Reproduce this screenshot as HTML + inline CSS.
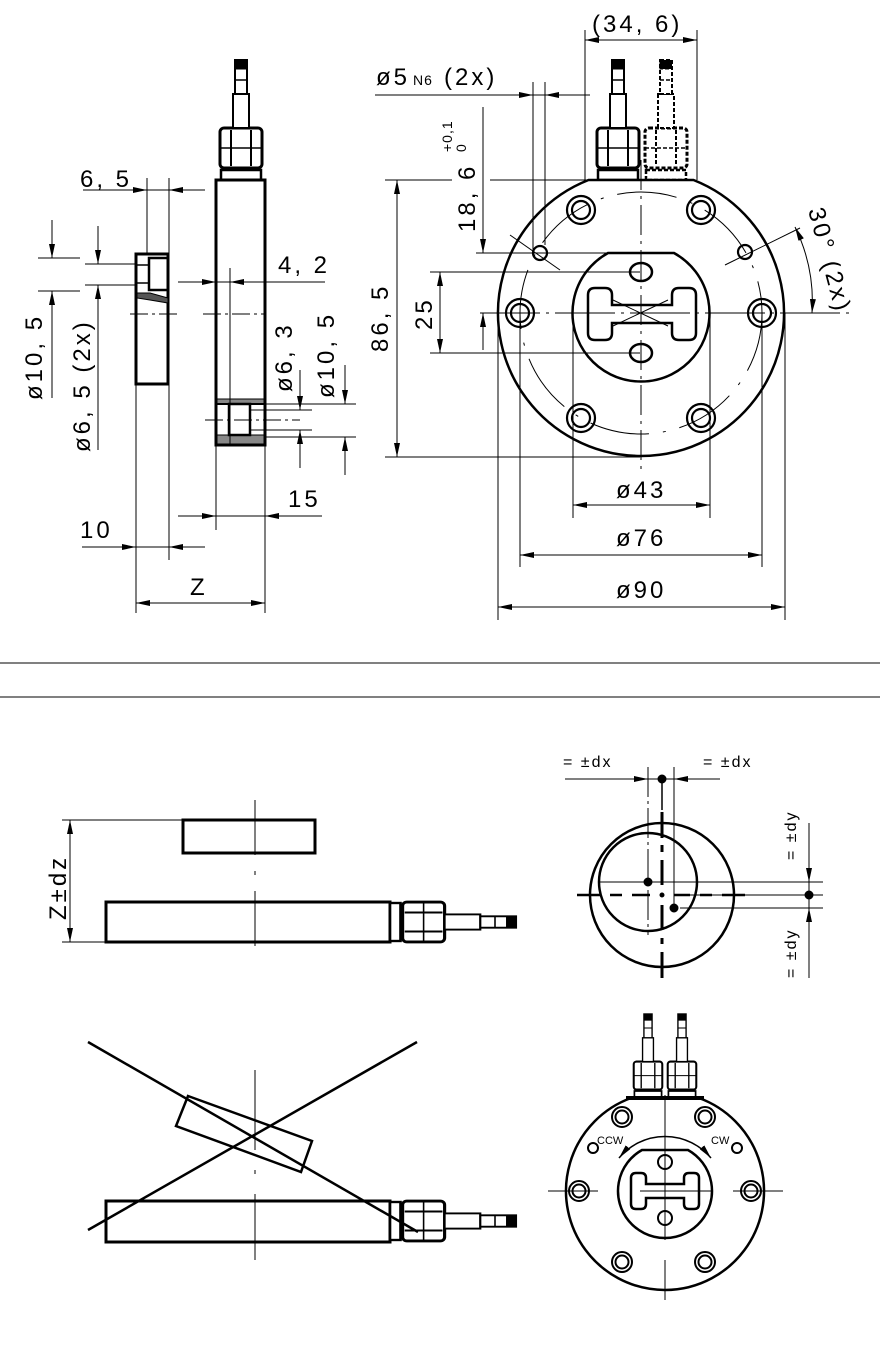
<!DOCTYPE html>
<html><head><meta charset="utf-8"><style>
html,body{margin:0;padding:0;background:#fff}
svg{display:block}
text{font-family:"Liberation Sans",sans-serif;fill:#000;font-weight:normal}
</style></head><body>
<svg width="880" height="1348" viewBox="0 0 880 1348" xmlns="http://www.w3.org/2000/svg">
<defs>
<marker id="ar" viewBox="0 0 14 6" refX="14" refY="3" markerWidth="14" markerHeight="6" markerUnits="userSpaceOnUse" orient="auto-start-reverse"><path d="M0,0 L14,3 L0,6 Z" fill="#000"/></marker>
<g id="conn" fill="#fff" stroke="#000">
<rect x="-20" y="-10" width="40" height="10" stroke-width="2.5"/>
<rect x="-21" y="-52" width="42" height="40" rx="4" stroke-width="3"/>
<line x1="-10" y1="-50" x2="-10" y2="-14" stroke-width="2"/>
<line x1="10" y1="-50" x2="10" y2="-14" stroke-width="2"/>
<line x1="-21" y1="-32" x2="21" y2="-32" stroke-width="1.5"/>
<rect x="-8" y="-86" width="16" height="34" stroke-width="2"/>
<rect x="-6" y="-120" width="12" height="34" stroke-width="2"/>
<rect x="-6" y="-120" width="12" height="9" fill="#000" stroke-width="1"/>
<line x1="-6" y1="-100" x2="6" y2="-100" stroke-width="1.5"/>
</g>
<g id="bolt" fill="none" stroke="#000" stroke-width="2.2"><circle r="14"/><circle r="9"/></g>
<g id="bolts" fill="none" stroke="#000" stroke-width="2"><circle r="10"/><circle r="6.5"/></g>
</defs>

<g fill="none" stroke="#000">
<use href="#conn" transform="translate(241,180)"/>
<rect x="216" y="180" width="49" height="265" stroke-width="3"/>
<rect x="136" y="254" width="32" height="130" stroke-width="3"/>
<rect x="149" y="258" width="19" height="32" stroke-width="2.5"/>
<path d="M137,293 L150,293 L168,298 L168,303 L150,300 L137,298 Z" fill="#555" stroke-width="1"/>
<line x1="137" y1="265" x2="148" y2="265" stroke-width="1.5"/>
<line x1="137" y1="283" x2="148" y2="283" stroke-width="1.5"/>
<rect x="217" y="399" width="47" height="5" fill="#888" stroke-width="1"/>
<rect x="217" y="435" width="47" height="9" fill="#888" stroke-width="1"/>
<rect x="229" y="404" width="21" height="31" stroke-width="2.5"/>
<line x1="217" y1="404" x2="264" y2="404" stroke-width="2"/>
<path d="M130,314 H180 M203,314 H265" stroke-width="1" stroke-dasharray="18,4,3,4"/>
<line x1="230" y1="268" x2="230" y2="445" stroke-width="1"/>
<path d="M205,420 H300" stroke-width="1" stroke-dasharray="18,4,3,4"/>
<g stroke-width="1">
<line x1="83" y1="190" x2="205" y2="190"/>
<line x1="128" y1="190" x2="147" y2="190" marker-end="url(#ar)"/>
<line x1="188" y1="190" x2="169" y2="190" marker-end="url(#ar)"/>
<line x1="147" y1="178" x2="147" y2="254"/>
<line x1="169" y1="178" x2="169" y2="560"/>
<line x1="178" y1="282" x2="325" y2="282"/>
<line x1="196" y1="282" x2="216" y2="282" marker-end="url(#ar)"/>
<line x1="250" y1="282" x2="230" y2="282" marker-end="url(#ar)"/>
<line x1="178" y1="516" x2="322" y2="516"/>
<line x1="196" y1="516" x2="216" y2="516" marker-end="url(#ar)"/>
<line x1="285" y1="516" x2="265" y2="516" marker-end="url(#ar)"/>
<line x1="216" y1="445" x2="216" y2="530"/>
<line x1="82" y1="547" x2="205" y2="547"/>
<line x1="116" y1="547" x2="136" y2="547" marker-end="url(#ar)"/>
<line x1="189" y1="547" x2="169" y2="547" marker-end="url(#ar)"/>
<line x1="136" y1="384" x2="136" y2="613"/>
<line x1="265" y1="445" x2="265" y2="613"/>
<line x1="136" y1="603" x2="265" y2="603" marker-start="url(#ar)" marker-end="url(#ar)"/>
<line x1="38" y1="258" x2="80" y2="258"/>
<line x1="38" y1="291" x2="80" y2="291"/>
<line x1="52" y1="220" x2="52" y2="258" marker-end="url(#ar)"/>
<line x1="52" y1="398" x2="52" y2="291" marker-end="url(#ar)"/>
<line x1="85" y1="264" x2="135" y2="264"/>
<line x1="85" y1="285" x2="135" y2="285"/>
<line x1="98" y1="226" x2="98" y2="264" marker-end="url(#ar)"/>
<line x1="98" y1="450" x2="98" y2="285" marker-end="url(#ar)"/>
<line x1="264" y1="404" x2="356" y2="404"/>
<line x1="264" y1="437" x2="356" y2="437"/>
<line x1="250" y1="410" x2="312" y2="410"/>
<line x1="250" y1="430" x2="312" y2="430"/>
<line x1="300" y1="370" x2="300" y2="410" marker-end="url(#ar)"/>
<line x1="300" y1="468" x2="300" y2="430" marker-end="url(#ar)"/>
<line x1="345" y1="365" x2="345" y2="404" marker-end="url(#ar)"/>
<line x1="345" y1="475" x2="345" y2="437" marker-end="url(#ar)"/>
</g>

<use href="#conn" transform="translate(618,180)"/>
<g stroke-dasharray="4,2"><use href="#conn" transform="translate(666,180)"/></g>
<path d="M588.5,180 H693.5 A143,143 0 1,1 588.5,180 Z" stroke-width="2.5" fill="#fff"/>
<circle cx="641" cy="313" r="121" stroke-width="1" stroke-dasharray="60,14,3,14"/>
<path d="M608,253 H674 A68.5,68.5 0 1,1 608,253 Z" stroke-width="2.5"/>
<path d="M588,295 q0,-7 7,-7 h10 q7,0 7,7 v10 h60 v-10 q0,-7 7,-7 h10 q7,0 7,7 v38 q0,7 -7,7 h-10 q-7,0 -7,-7 v-10 h-60 v10 q0,7 -7,7 h-10 q-7,0 -7,-7 z" stroke-width="2.5"/>
<path d="M613,300 L668,326 M613,326 L668,300" stroke-width="1"/>
<ellipse cx="641" cy="272" rx="11" ry="9" stroke-width="2.5"/>
<ellipse cx="641" cy="353" rx="11" ry="9" stroke-width="2.5"/>
<use href="#bolt" x="520" y="313"/><use href="#bolt" x="762" y="313"/>
<use href="#bolt" x="581" y="210"/><use href="#bolt" x="701" y="210"/>
<use href="#bolt" x="581" y="418"/><use href="#bolt" x="701" y="418"/>
<circle cx="540" cy="253" r="7" stroke-width="2.2"/>
<circle cx="745" cy="252" r="7" stroke-width="2.2"/>
<g stroke-width="1">
<line x1="480" y1="313" x2="850" y2="313" stroke-dasharray="60,6,3,6"/>
<line x1="641" y1="160" x2="641" y2="470" stroke-dasharray="30,6,3,6"/>
<line x1="510" y1="235" x2="560" y2="270"/>
<line x1="725" y1="265" x2="800" y2="228"/>
<line x1="585" y1="30" x2="585" y2="180"/>
<line x1="697" y1="30" x2="697" y2="180"/>
<line x1="585" y1="40" x2="697" y2="40" marker-start="url(#ar)" marker-end="url(#ar)"/>
<line x1="375" y1="95" x2="590" y2="95"/>
<line x1="513" y1="95" x2="533" y2="95" marker-end="url(#ar)"/>
<line x1="565" y1="95" x2="545" y2="95" marker-end="url(#ar)"/>
<line x1="533" y1="82" x2="533" y2="253"/>
<line x1="545" y1="82" x2="545" y2="245"/>
<line x1="385" y1="180" x2="452" y2="180"/>
<line x1="490" y1="180" x2="645" y2="180"/>
<line x1="385" y1="457" x2="640" y2="457"/>
<line x1="397" y1="180" x2="397" y2="457" marker-start="url(#ar)" marker-end="url(#ar)"/>
<line x1="483" y1="107" x2="483" y2="253" marker-end="url(#ar)"/>
<line x1="483" y1="350" x2="483" y2="313" marker-end="url(#ar)"/>
<line x1="476" y1="253" x2="640" y2="253"/>
<line x1="430" y1="272" x2="640" y2="272"/>
<line x1="430" y1="353" x2="640" y2="353"/>
<line x1="440" y1="272" x2="440" y2="353" marker-start="url(#ar)" marker-end="url(#ar)"/>
<line x1="573" y1="313" x2="573" y2="518"/>
<line x1="710" y1="313" x2="710" y2="518"/>
<line x1="573" y1="505" x2="710" y2="505" marker-start="url(#ar)" marker-end="url(#ar)"/>
<line x1="520" y1="313" x2="520" y2="567"/>
<line x1="762" y1="313" x2="762" y2="567"/>
<line x1="520" y1="555" x2="762" y2="555" marker-start="url(#ar)" marker-end="url(#ar)"/>
<line x1="498" y1="313" x2="498" y2="620"/>
<line x1="785" y1="313" x2="785" y2="620"/>
<line x1="498" y1="607" x2="785" y2="607" marker-start="url(#ar)" marker-end="url(#ar)"/>
<path d="M795,227 A170,170 0 0,1 812,313" marker-start="url(#ar)" marker-end="url(#ar)"/>
<line x1="0" y1="663" x2="880" y2="663"/>
<line x1="0" y1="697" x2="880" y2="697"/>
</g>

<rect x="183" y="820" width="132" height="33" stroke-width="3"/>
<rect x="106" y="902" width="284" height="40" stroke-width="3"/>
<use href="#conn" transform="translate(390,922) rotate(90) scale(0.95,1.05)"/>
<g stroke-width="1">
<line x1="255" y1="800" x2="255" y2="960" stroke-dasharray="55,16,4,16"/>
<line x1="62" y1="820" x2="183" y2="820"/>
<line x1="62" y1="942" x2="106" y2="942"/>
<line x1="70" y1="820" x2="70" y2="942" marker-start="url(#ar)" marker-end="url(#ar)"/>
<line x1="255" y1="1070" x2="255" y2="1260" stroke-dasharray="80,20,4,20"/>
</g>
<polygon points="188,1096 312,1141 301,1172 176,1126" stroke-width="2.5" fill="none"/>
<rect x="106" y="1201" width="284" height="41" stroke-width="3"/>
<use href="#conn" transform="translate(390,1221) rotate(90) scale(0.95,1.05)"/>
<line x1="88" y1="1042" x2="418" y2="1232" stroke-width="2.5"/>
<line x1="88" y1="1230" x2="417" y2="1042" stroke-width="2.5"/>

<circle cx="662" cy="895" r="72" stroke-width="2.5"/>
<circle cx="648" cy="882" r="49" stroke-width="2.5"/>
<g stroke-width="1">
<line x1="565" y1="779" x2="720" y2="779"/>
<line x1="648" y1="767" x2="648" y2="935" stroke-dasharray="30,4,3,4"/>
<line x1="674" y1="767" x2="674" y2="908"/>
<line x1="630" y1="779" x2="648" y2="779" marker-end="url(#ar)"/>
<line x1="692" y1="779" x2="674" y2="779" marker-end="url(#ar)"/>
<line x1="600" y1="882" x2="823" y2="882"/>
<line x1="680" y1="895" x2="823" y2="895"/>
<line x1="680" y1="908" x2="823" y2="908"/>
<line x1="809" y1="823" x2="809" y2="978"/>
<line x1="809" y1="862" x2="809" y2="882" marker-end="url(#ar)"/>
<line x1="809" y1="928" x2="809" y2="908" marker-end="url(#ar)"/>
</g>
<path d="M577,895 H600 M610,895 H622 M632,895 H650 M674,895 H690 M700,895 H712 M722,895 H745" stroke-width="2.5"/>
<path d="M662,812 V838 M662,845 V852 M662,860 V885 M662,905 V930 M662,938 V944 M662,952 V978" stroke-width="3"/>
<line x1="662" y1="779" x2="662" y2="810" stroke-width="1.5"/>
<circle cx="662" cy="779" r="4" fill="#000"/>
<circle cx="648" cy="882" r="4" fill="#000"/>
<circle cx="674" cy="908" r="4" fill="#000"/>
<circle cx="662" cy="895" r="2" fill="#000"/>
<circle cx="809" cy="895" r="4" fill="#000"/>

<use href="#conn" transform="translate(648,1098) scale(0.68,0.7)"/>
<use href="#conn" transform="translate(682,1098) scale(0.68,0.7)"/>
<path d="M631,1098 H699 A99,99 0 1,1 631,1098 Z" stroke-width="2.5" fill="#fff"/>
<line x1="626" y1="1098" x2="704" y2="1098" stroke-width="4"/>
<path d="M642,1150 H688 A47,47 0 1,1 642,1150 Z" stroke-width="2.5"/>
<path d="M619,1158 A60,60 0 0,1 711,1158" stroke-width="1.5" marker-start="url(#ar)" marker-end="url(#ar)"/>
<path d="M631,1178 q0,-5 5,-5 h5 q5,0 5,5 v6 h38 v-6 q0,-5 5,-5 h5 q5,0 5,5 v26 q0,5 -5,5 h-5 q-5,0 -5,-5 v-6 h-38 v6 q0,5 -5,5 h-5 q-5,0 -5,-5 z" stroke-width="2.5"/>
<circle cx="665" cy="1162" r="7" stroke-width="2"/>
<circle cx="665" cy="1218" r="7" stroke-width="2"/>
<use href="#bolts" x="579" y="1191"/><use href="#bolts" x="751" y="1191"/>
<use href="#bolts" x="622" y="1117"/><use href="#bolts" x="705" y="1117"/>
<use href="#bolts" x="622" y="1262"/><use href="#bolts" x="705" y="1262"/>
<circle cx="593" cy="1148" r="5" stroke-width="2"/>
<circle cx="737" cy="1148" r="5" stroke-width="2"/>
<g stroke-width="1">
<line x1="548" y1="1191" x2="598" y2="1191"/>
<line x1="733" y1="1191" x2="783" y2="1191"/>
<line x1="640" y1="1191" x2="712" y2="1191"/>
<line x1="665" y1="1095" x2="665" y2="1240"/>
<line x1="665" y1="1260" x2="665" y2="1300"/>
</g>
</g>

<g font-size="24" letter-spacing="3">
<text x="80" y="187">6, 5</text>
<text x="278" y="273">4, 2</text>
<text x="288" y="507">15</text>
<text x="80" y="538">10</text>
<text x="190" y="595">Z</text>
<text transform="translate(42,400) rotate(-90)">ø10, 5</text>
<text transform="translate(90,452) rotate(-90)">ø6, 5 (2x)</text>
<text transform="translate(292,392) rotate(-90)">ø6, 3</text>
<text transform="translate(334,398) rotate(-90)">ø10, 5</text>
<text x="592" y="32">(34, 6)</text>
<text x="376" y="85">ø5</text>
<text x="413" y="85" font-size="14" letter-spacing="1">N6</text>
<text x="444" y="85">(2x)</text>
<text transform="translate(475,232) rotate(-90)">18, 6</text>
<text transform="translate(452,152) rotate(-90)" font-size="14" letter-spacing="1">+0,1</text>
<text transform="translate(466,152) rotate(-90)" font-size="14" letter-spacing="1">0</text>
<text transform="translate(388,352) rotate(-90)">86, 5</text>
<text transform="translate(432,330) rotate(-90)">25</text>
<text x="616" y="498">ø43</text>
<text x="616" y="546">ø76</text>
<text x="616" y="598">ø90</text>
<text transform="translate(808,210) rotate(75)">30° (2x)</text>
<text transform="translate(66,920) rotate(-90)">Z±dz</text>
</g>
<g font-size="16" letter-spacing="2">
<text x="563" y="767">=  ±dx</text>
<text x="703" y="767">=  ±dx</text>
<text transform="translate(796,860) rotate(-90)">=  ±dy</text>
<text transform="translate(796,978) rotate(-90)">=  ±dy</text>
</g>
<g font-size="11">
<text x="597" y="1144">CCW</text>
<text x="711" y="1144">CW</text>
</g>
</svg>
</body></html>
